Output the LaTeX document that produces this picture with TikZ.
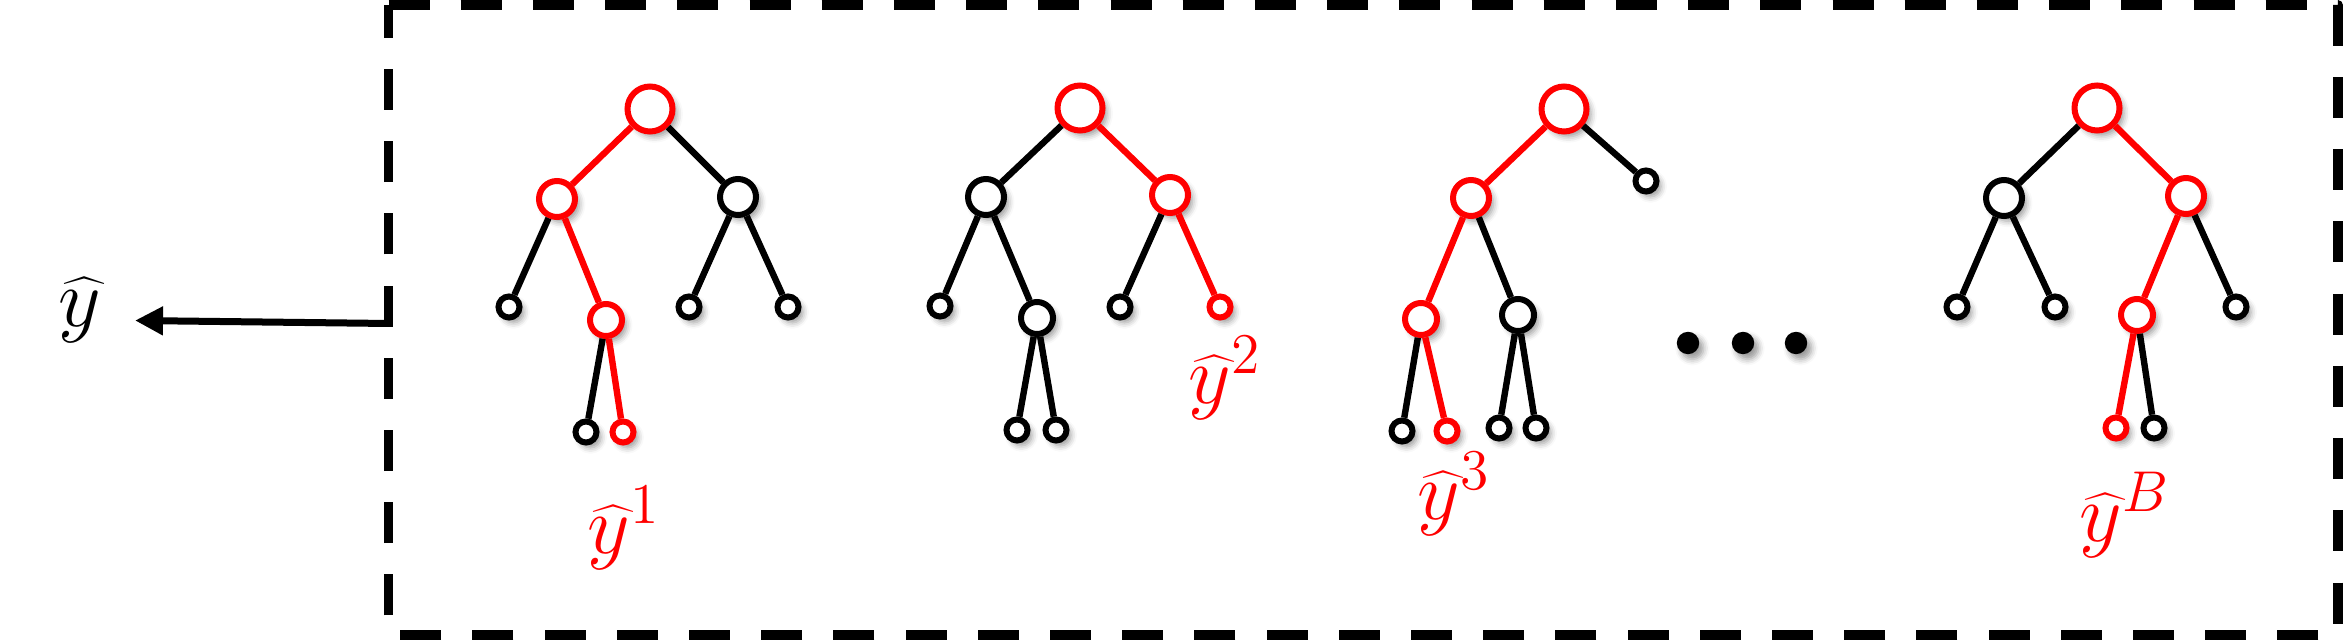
\documentclass[tikz,border=0pt]{standalone}
\usetikzlibrary{arrows.meta,shadows.blur}
\definecolor{tred}{RGB}{255,0,0}
\tikzset{
  nd/.style={circle, draw, fill=white, line width=1.5pt, inner sep=0pt,
    blur shadow={shadow xshift=1.1pt, shadow yshift=-1.3pt, shadow blur radius=1.5pt, shadow opacity=40}},
  rootn/.style={nd, minimum size=11.25pt},
  midn/.style={nd, minimum size=9pt},
  intn/.style={nd, minimum size=8pt},
  leafn/.style={nd, minimum size=5.25pt},
  onp/.style={draw=tred},
  offp/.style={draw=black},
  bedge/.style={line width=1.6pt, draw=black},
  redge/.style={line width=1.6pt, draw=tred},
  lbl/.style={inner sep=0pt, font=\fontsize{20.74}{25}\selectfont},
  dotn/.style={circle, fill=black, inner sep=0pt, minimum size=5.6pt,
    blur shadow={shadow xshift=1.1pt, shadow yshift=-1.3pt, shadow blur radius=1.5pt, shadow opacity=40}},
  frame/.style={line width=2.375pt, dash pattern=on 10.25pt off 7.8pt, line join=round},
  outarrow/.style={line width=1.75pt, -{Triangle[length=7pt,width=6.8pt]}},
}
\begin{document}
\begin{tikzpicture}[x=0.25pt,y=-0.25pt]
\useasboundingbox (0,0) rectangle (2343,640);

% dashed frame
\draw[frame] (388.5,5) -- (2338,5) -- (2338,635) -- (388.5,635) -- cycle;

% output label and arrow
\node[lbl] (yhat) at (80,310) {$\widehat{y}$};
\coordinate (astart) at (389,323.5);
\coordinate (tip) at (135,320.5);
\draw[outarrow] (astart) -- (tip);

% ---------- tree 1 ----------
\node[rootn, onp] (t1r) at (650,109) {};
\node[midn, onp] (t1a) at (557,199) {};
\node[midn, offp] (t1b) at (738,197) {};
\node[leafn, offp] (t1a1) at (509,307) {};
\node[intn, onp] (t1a2) at (606,320) {};
\node[leafn, offp] (t1b1) at (689,307) {};
\node[leafn, offp] (t1b2) at (788,307) {};
\node[leafn, offp] (t1c1) at (586,432) {};
\node[leafn, onp] (t1c2) at (623,432) {};
\draw[redge] (t1r) -- (t1a);
\draw[bedge] (t1r) -- (t1b);
\draw[bedge] (t1a) -- (t1a1);
\draw[redge] (t1a) -- (t1a2);
\draw[bedge] (t1b) -- (t1b1);
\draw[bedge] (t1b) -- (t1b2);
\draw[bedge] (t1a2) -- (t1c1);
\draw[redge] (t1a2) -- (t1c2);
\node[lbl, text=tred] (t1l) at (624,528) {$\widehat{y}^{1}$};

% ---------- tree 2 ----------
\node[rootn, onp] (t2r) at (1080,108) {};
\node[midn, offp] (t2a) at (986,197) {};
\node[midn, onp] (t2b) at (1170,195) {};
\node[leafn, offp] (t2a1) at (940,306) {};
\node[intn, offp] (t2a2) at (1037,318) {};
\node[leafn, offp] (t2b1) at (1120,307) {};
\node[leafn, onp] (t2b2) at (1220,307) {};
\node[leafn, offp] (t2c1) at (1017,430) {};
\node[leafn, offp] (t2c2) at (1056,430) {};
\draw[bedge] (t2r) -- (t2a);
\draw[redge] (t2r) -- (t2b);
\draw[bedge] (t2a) -- (t2a1);
\draw[bedge] (t2a) -- (t2a2);
\draw[bedge] (t2b) -- (t2b1);
\draw[redge] (t2b) -- (t2b2);
\draw[bedge] (t2a2) -- (t2c1);
\draw[bedge] (t2a2) -- (t2c2);
\node[lbl, text=tred] (t2l) at (1225,378) {$\widehat{y}^{2}$};

% ---------- tree 3 ----------
\node[rootn, onp] (t3r) at (1564,109) {};
\node[midn, onp] (t3a) at (1471,198) {};
\node[leafn, offp] (t3b) at (1646,181) {};
\node[intn, onp] (t3a1) at (1421,319) {};
\node[intn, offp] (t3a2) at (1518,315) {};
\node[leafn, offp] (t3c1) at (1402,431) {};
\node[leafn, onp] (t3c2) at (1447,431) {};
\node[leafn, offp] (t3c3) at (1499,428) {};
\node[leafn, offp] (t3c4) at (1536,428) {};
\draw[redge] (t3r) -- (t3a);
\draw[bedge] (t3r) -- (t3b);
\draw[redge] (t3a) -- (t3a1);
\draw[bedge] (t3a) -- (t3a2);
\draw[bedge] (t3a1) -- (t3c1);
\draw[redge] (t3a1) -- (t3c2);
\draw[bedge] (t3a2) -- (t3c3);
\draw[bedge] (t3a2) -- (t3c4);
\node[lbl, text=tred] (t3l) at (1454,494) {$\widehat{y}^{3}$};

% ---------- ellipsis ----------
\node[dotn] (d1) at (1688,343) {};
\node[dotn] (d2) at (1743,343) {};
\node[dotn] (d3) at (1796,343) {};

% ---------- tree B ----------
\node[rootn, onp] (tBr) at (2097,108) {};
\node[midn, offp] (tBa) at (2004,198) {};
\node[midn, onp] (tBb) at (2186,196) {};
\node[leafn, offp] (tBa1) at (1957,307) {};
\node[leafn, offp] (tBa2) at (2055,307) {};
\node[intn, onp] (tBb1) at (2137,315) {};
\node[leafn, offp] (tBb2) at (2236,307) {};
\node[leafn, onp] (tBc1) at (2116,428) {};
\node[leafn, offp] (tBc2) at (2154,428) {};
\draw[bedge] (tBr) -- (tBa);
\draw[redge] (tBr) -- (tBb);
\draw[bedge] (tBa) -- (tBa1);
\draw[bedge] (tBa) -- (tBa2);
\draw[redge] (tBb) -- (tBb1);
\draw[bedge] (tBb) -- (tBb2);
\draw[redge] (tBb1) -- (tBc1);
\draw[bedge] (tBb1) -- (tBc2);
\node[lbl, text=tred] (tBl) at (2125,515) {$\widehat{y}^{B}$};
\end{tikzpicture}
\end{document}
